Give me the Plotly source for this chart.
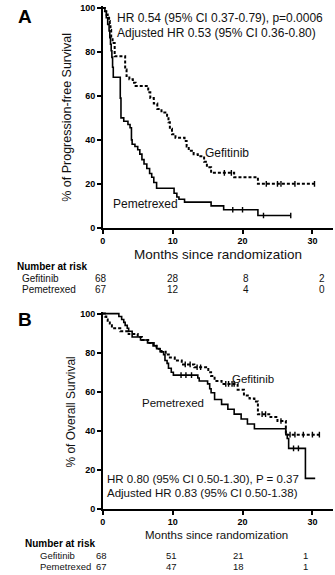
import plotly.graph_objects as go

W, H = 335, 575

# ---------------- Panel A: progression-free survival ----------------
a_gef_t = [0, 0.3, 0.5, 0.7, 0.9, 1.0, 1.1, 1.2, 1.4, 1.7, 3.2, 3.4, 3.8, 4.3, 4.7,
           6.5, 6.8, 7.3, 7.8, 8.4, 9.2, 9.4, 9.6, 9.9, 10.4, 11.7, 12.0, 12.3, 13.0,
           13.6, 14.5, 14.9, 15.5, 18.8, 22.2]
a_gef_s = [100, 98.5, 97, 95.5, 94, 92.5, 90, 87, 84, 78, 72, 69, 67.6, 66, 64.5,
           61.6, 59, 56.5, 54, 52.5, 51, 48, 45, 42.5, 41, 39.5, 37, 35, 33.5,
           32.5, 30, 27.5, 25, 23, 20]
a_gef_end = 30.3
a_gef_cens = [17.4, 18.4, 23.4, 25.0, 25.5, 27.5, 30.3]

a_pem_t = [0, 0.3, 0.5, 0.7, 0.9, 1.0, 1.1, 1.2, 1.3, 1.4, 1.5, 2.5, 2.6, 3.0, 3.6,
           3.9, 4.1, 4.2, 4.6, 5.0, 5.3, 5.6, 5.9, 6.3, 6.7, 7.0, 7.3, 7.7, 10.2,
           10.6, 10.9, 11.7, 15.5, 17.3, 22.2]
a_pem_s = [100, 98.5, 95.5, 92.5, 89.5, 86.5, 83.5, 80.5, 77.5, 73, 68.5, 59, 50, 48.5, 47,
           45.5, 40, 38, 37, 35.5, 33.5, 31, 29, 27, 24.7, 23, 20.6, 18, 15.7,
           14, 13, 11.7, 10, 8.2, 5.6]
a_pem_end = 26.9
a_pem_cens = [18.6, 20.0, 23.0, 26.9]

# ---------------- Panel B: overall survival ----------------
b_gef_t = [0, 0.3, 0.5, 0.7, 1.0, 1.3, 2.5, 3.7, 5.0, 5.6, 6.5, 7.3, 7.7, 8.4, 9.0,
           9.6, 10.3, 11.3, 13.1, 15.1, 15.5, 16.0, 17.0, 19.3, 20.2, 21.0, 21.7,
           22.2, 24.0, 25.0, 26.2]
b_gef_s = [100, 98.5, 97, 95.5, 94, 92.5, 91, 89.5, 88, 86.5, 85, 83.5, 82, 80.5, 79,
           77.5, 76, 74, 72.5, 70, 68, 65.5, 64, 61, 58, 56.5, 55,
           48.5, 47, 45, 38]
b_gef_end = 31.0
b_gef_cens = [11.8, 12.5, 13.5, 14.0, 17.6, 18.0, 18.5, 18.8, 22.8, 23.3, 25.5,
              26.8, 27.5, 28.7, 30.0, 31.0]

b_pem_t = [0, 2.3, 2.7, 3.0, 3.2, 3.5, 3.7, 4.2, 5.4, 6.4, 7.2, 7.7, 8.2, 8.7, 8.9,
           9.2, 9.4, 9.8, 10.1, 13.6, 13.8, 15.0, 15.3, 15.5, 16.0, 17.0, 17.9, 18.8,
           19.8, 20.7, 21.7, 26.2, 26.4, 26.6, 29.0]
b_pem_s = [100, 98.5, 97, 95.5, 94, 92.5, 91, 88, 86.5, 85, 83.5, 82, 80.5, 79, 76,
           74.5, 72, 70, 68.5, 67, 65.5, 64, 61.5, 59.5, 56, 53.5, 51, 48.5,
           46, 43.5, 41, 38, 36, 31, 15.6]
b_pem_end = 30.4
b_pem_cens = [11.2, 11.9, 12.7, 27.3, 28.0]

x_ticks = [0, 10, 20, 30]
y_ticks = [0, 20, 40, 60, 80, 100]

a_risk_gef = [68, 28, 8, 2]
a_risk_pem = [67, 12, 4, 0]
b_risk_gef = [68, 51, 21, 1]
b_risk_pem = [67, 47, 18, 1]

FONT = "Liberation Sans, Arial, Helvetica, sans-serif"


def step_xy(t, s, end):
    return list(t) + [end], list(s) + [s[-1]]


def surv_at(t, s, c):
    idx = max(i for i, ti in enumerate(t) if ti <= c)
    return s[idx]


fig = go.Figure()


def add_curve(t, s, end, cens, xa, ya, dashed):
    x, y = step_xy(t, s, end)
    line = dict(color="black", width=2 if dashed else 1.6, shape="hv")
    if dashed:
        line["dash"] = "3px,2px"
    fig.add_trace(go.Scatter(x=x, y=y, mode="lines", line=line,
                             xaxis=xa, yaxis=ya, showlegend=False, hoverinfo="skip"))
    fig.add_trace(go.Scatter(x=cens, y=[surv_at(t, s, c) for c in cens], mode="markers",
                             marker=dict(symbol="line-ns", size=4,
                                         line=dict(color="black", width=1.4)),
                             xaxis=xa, yaxis=ya, showlegend=False, hoverinfo="skip"))


add_curve(a_gef_t, a_gef_s, a_gef_end, a_gef_cens, "x", "y", True)
add_curve(a_pem_t, a_pem_s, a_pem_end, a_pem_cens, "x", "y", False)
add_curve(b_gef_t, b_gef_s, b_gef_end, b_gef_cens, "x2", "y2", True)
add_curve(b_pem_t, b_pem_s, b_pem_end, b_pem_cens, "x2", "y2", False)


def px(x):
    return x / W


def py(y):
    return 1 - y / H


x_dom = [px(100.7), px(333)]
x_rng = [0, (333 - 100.7) / 7.05]

axis_common = dict(showline=True, linecolor="black", linewidth=1.5, ticks="outside",
                   ticklen=4, tickwidth=1.5, tickcolor="black", showgrid=False,
                   zeroline=False, tickfont=dict(family=FONT, size=9, color="black"),
                   fixedrange=True)

# A: y=0 at 228px, y=100 at 5px  -> 2.23 px per unit
a_top = 228 - 101 * 2.23
# B: y=0 at 513px, y=100 at 315px -> 1.98 px per unit
b_top = 513 - 101 * 1.98

fig.update_layout(
    width=W, height=H, margin=dict(l=0, r=0, t=0, b=0),
    paper_bgcolor="white", plot_bgcolor="white",
    xaxis=dict(domain=x_dom, range=x_rng, tickvals=x_ticks, anchor="y",
               ticktext=[f"<b>{v}</b>" for v in x_ticks], **axis_common),
    yaxis=dict(domain=[py(228), py(a_top)], range=[0, 101], tickvals=y_ticks,
               ticktext=[f"<b>{v}</b>" for v in y_ticks], anchor="x", **axis_common),
    xaxis2=dict(domain=x_dom, range=x_rng, tickvals=x_ticks, anchor="y2",
                ticktext=[f"<b>{v}</b>" for v in x_ticks], **axis_common),
    yaxis2=dict(domain=[py(513), py(b_top)], range=[0, 101], tickvals=y_ticks,
                ticktext=[f"<b>{v}</b>" for v in y_ticks], anchor="x2", **axis_common),
)

ann = []


def text(x, y, s, size, xanchor="left", bold=False, angle=0, color="#111"):
    ann.append(dict(x=px(x), y=py(y), xref="paper", yref="paper", text=(f"<b>{s}</b>" if bold else s),
                    showarrow=False, xanchor=xanchor, yanchor="middle", textangle=angle,
                    font=dict(family=FONT, size=size, color=color)))


# Panel letters
text(22, 14, "A", 19, "center", bold=True, color="black")
text(22, 321, "B", 19, "center", bold=True, color="black")

# Panel A texts
text(113, 15, "HR 0.54 (95% CI 0.37-0.79), p=0.0006", 12)
text(113, 30, "Adjusted HR 0.53 (95% CI 0.36-0.80)", 12)
text(202, 152, "Gefitinib", 12)
text(109, 204, "Pemetrexed", 12)
text(217, 255, "Months since randomization", 13.5, "center")
text(65, 116, "% of Progression-free Survival", 12.5, "center", angle=-90)

# Panel B texts
text(103, 483, "HR 0.80 (95% CI 0.50-1.30), P = 0.37", 11.5)
text(103, 497, "Adjusted HR 0.83 (95% CI 0.50-1.38)", 11.5)
text(229, 381, "Gefitinib", 11.5)
text(138, 406, "Pemetrexed", 11.5)
text(215, 540, "Months since randomization", 11.5, "center")
text(69, 415, "% of Overall Survival", 12, "center", angle=-90)

# Number at risk tables
a_cols = [99, 172, 245, 322]
text(12, 267, "Number at risk", 10, bold=True, color="black")
text(17, 279, "Gefitinib", 10)
text(17, 291, "Pemetrexed", 10)
for i, c in enumerate(a_cols):
    text(c, 279, str(a_risk_gef[i]), 10, "center")
    text(c, 291, str(a_risk_pem[i]), 10, "center")

b_cols = [99, 170, 238, 305]
text(20, 548, "Number at risk", 10, bold=True, color="black")
text(35, 560, "Gefitinib", 9.5)
text(35, 571, "Pemetrexed", 9.5)
for i, c in enumerate(b_cols):
    text(c, 560, str(b_risk_gef[i]), 9.5, "center")
    text(c, 571, str(b_risk_pem[i]), 9.5, "center")

fig.update_layout(annotations=ann)

fig.write_html("out.html", config={"displayModeBar": False})
